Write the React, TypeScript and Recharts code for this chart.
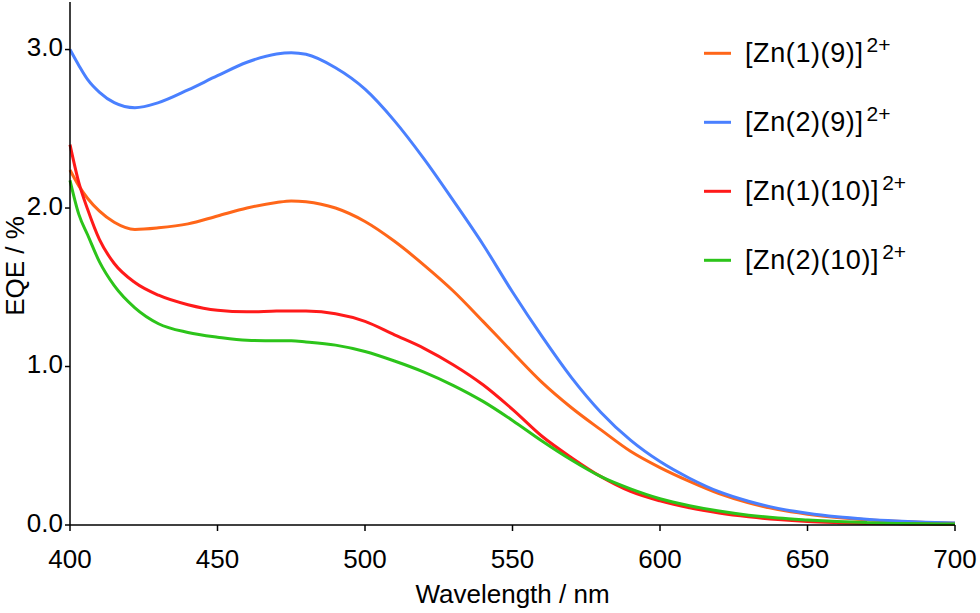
import React from "react";
import { LineChart, Line, XAxis, YAxis } from "recharts";

const wavelengths = [400, 403, 406, 410, 415, 422, 430, 440, 450, 460, 470, 475, 480, 490, 500, 510, 520, 530, 540, 550, 560, 570, 580, 590, 600, 610, 620, 630, 640, 650, 660, 670, 680, 690, 700];

const zn1_9 = [2.24, 2.14, 2.06, 1.98, 1.91, 1.865, 1.875, 1.9, 1.95, 2.0, 2.035, 2.045, 2.04, 2.0, 1.915, 1.79, 1.64, 1.475, 1.285, 1.09, 0.9, 0.74, 0.6, 0.465, 0.362, 0.275, 0.198, 0.14, 0.097, 0.068, 0.047, 0.033, 0.023, 0.016, 0.011];
const zn2_9 = [3.0, 2.9, 2.81, 2.73, 2.665, 2.633, 2.665, 2.745, 2.835, 2.92, 2.972, 2.98, 2.97, 2.885, 2.75, 2.55, 2.31, 2.045, 1.77, 1.47, 1.19, 0.93, 0.71, 0.535, 0.4, 0.295, 0.21, 0.15, 0.105, 0.074, 0.052, 0.037, 0.026, 0.018, 0.012];
const zn1_10 = [2.4, 2.16, 1.99, 1.8, 1.65, 1.53, 1.45, 1.39, 1.355, 1.345, 1.35, 1.351, 1.35, 1.333, 1.285, 1.2, 1.115, 1.01, 0.885, 0.73, 0.56, 0.425, 0.305, 0.212, 0.152, 0.108, 0.076, 0.052, 0.034, 0.022, 0.015, 0.01, 0.008, 0.006, 0.005];
const zn2_10 = [2.175, 1.96, 1.83, 1.66, 1.51, 1.37, 1.27, 1.215, 1.185, 1.165, 1.162, 1.162, 1.155, 1.135, 1.095, 1.035, 0.965, 0.88, 0.78, 0.66, 0.53, 0.41, 0.305, 0.228, 0.166, 0.122, 0.088, 0.062, 0.044, 0.032, 0.022, 0.015, 0.01, 0.008, 0.006];

const xTicks = [400, 450, 500, 550, 600, 650, 700];
const yTicks = [0, 1, 2, 3];

const seriesKeys = ["zn1_9", "zn2_9", "zn1_10", "zn2_10"];
const seriesNames = ["[Zn(1)(9)]", "[Zn(2)(9)]", "[Zn(1)(10)]", "[Zn(2)(10)]"];
const seriesColors = ["#ff6619", "#4a80ff", "#ff1a1a", "#2cc41a"];

const data = wavelengths.map((w, i) => ({
  wl: w,
  zn1_9: zn1_9[i],
  zn2_9: zn2_9[i],
  zn1_10: zn1_10[i],
  zn2_10: zn2_10[i],
}));

const FONT = '"Liberation Sans", Arial, sans-serif';

const YTick = (props: any) => {
  const { x, y, payload } = props;
  return (
    <text x={x} y={y + 6.5} textAnchor="end" fontSize={26} fontFamily={FONT} fill="#000">
      {Number(payload.value).toFixed(1)}
    </text>
  );
};

const XTick = (props: any) => {
  const { x, y, payload } = props;
  return (
    <text x={x} y={y + 35} textAnchor="middle" fontSize={26} fontFamily={FONT} fill="#000">
      {payload.value}
    </text>
  );
};

const LegendOverlay = () => (
  <svg width={980} height={300} style={{ position: "absolute", left: 0, top: 0, pointerEvents: "none" }}>
    {seriesNames.map((name, i) => (
      <g key={name}>
        <line x1={704} x2={731} y1={53.3 + i * 69} y2={53.3 + i * 69} stroke={seriesColors[i]} strokeWidth={3} />
        <text x={745} y={62.3 + i * 69} fontSize={27} letterSpacing={0.6} fontFamily={FONT} fill="#000">
          {name}
          <tspan dx={3} dy={-10.6} fontSize={21} letterSpacing={0}>
            2+
          </tspan>
        </text>
      </g>
    ))}
  </svg>
);

export default function App() {
  return (
    <div style={{ position: "absolute", left: 0, top: 0, width: 980, height: 613, background: "#fff" }}>
      <LineChart width={980} height={613} data={data} margin={{ top: 2, right: 25, bottom: 0, left: 0 }}>
        <XAxis
          dataKey="wl"
          type="number"
          domain={[400, 700]}
          ticks={xTicks}
          height={88}
          tickSize={6}
          tick={<XTick />}
          axisLine={{ stroke: "#000", strokeWidth: 1.5 }}
          tickLine={{ stroke: "#000", strokeWidth: 1.5 }}
          label={{
            value: "Wavelength / nm",
            position: "insideBottom",
            offset: 10,
            fontSize: 26,
            fontFamily: FONT,
            fill: "#000",
          }}
        />
        <YAxis
          type="number"
          domain={[0, 3.3]}
          ticks={yTicks}
          width={70}
          tickSize={5}
          tick={<YTick />}
          axisLine={{ stroke: "#000", strokeWidth: 1.5 }}
          tickLine={{ stroke: "#000", strokeWidth: 1.5 }}
          label={() => (
            <text
              x={23.5}
              y={266}
              transform="rotate(-90, 23.5, 266)"
              textAnchor="middle"
              fontSize={26}
              fontFamily={FONT}
              fill="#000"
            >
              EQE / %
            </text>
          )}
        />
        {seriesKeys.map((k, i) => (
          <Line
            key={k}
            dataKey={k}
            name={seriesNames[i]}
            type="monotone"
            stroke={seriesColors[i]}
            strokeWidth={3}
            dot={false}
            isAnimationActive={false}
          />
        ))}
      </LineChart>
      <LegendOverlay />
    </div>
  );
}
